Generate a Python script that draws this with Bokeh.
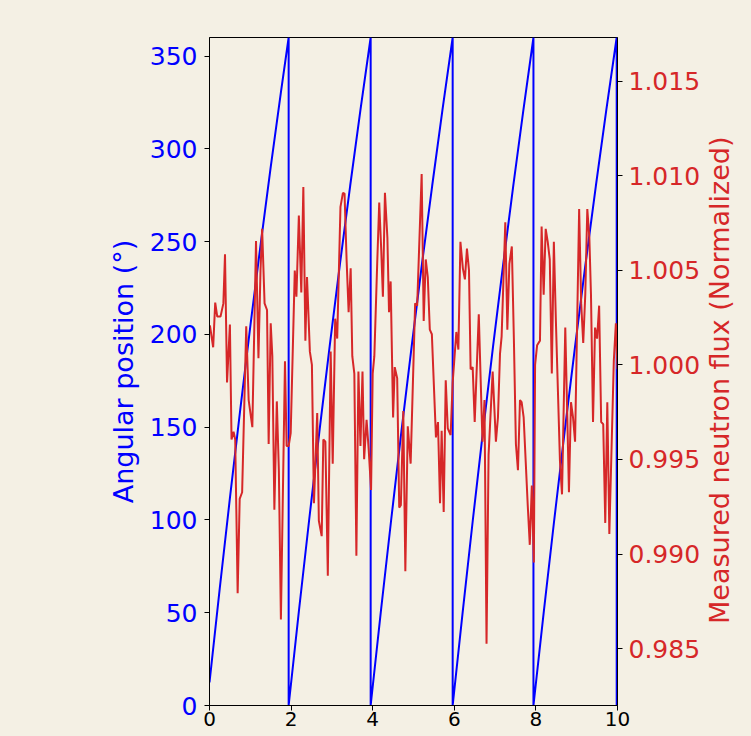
from bokeh.plotting import figure
from bokeh.models import Range1d, LinearAxis, FixedTicker, PrintfTickFormatter, Div
from bokeh.layouts import row
from bokeh.embed import file_html
from bokeh.resources import INLINE

# ---- data ----
blue_t = [0.0, 0.25, 0.5, 0.75, 1.0, 1.25, 1.5, 1.75, 1.94,
          1.94, 2.191, 2.443, 2.694, 2.945, 3.196, 3.448, 3.699, 3.95,
          3.95, 4.201, 4.453, 4.704, 4.955, 5.206, 5.458, 5.709, 5.96,
          5.96, 6.208, 6.455, 6.703, 6.95, 7.198, 7.445, 7.693, 7.94,
          7.94, 8.195, 8.45, 8.705, 8.96, 9.215, 9.47, 9.725, 9.98,
          9.98, 10.0]
blue_deg = [12.4, 62.9, 111.7, 158.8, 204.3, 248.0, 290.1, 330.4, 360.0,
            0.0, 50.9, 100.1, 147.7, 193.5, 237.7, 280.1, 320.9, 360.0,
            0.0, 50.9, 100.1, 147.7, 193.5, 237.7, 280.1, 320.9, 360.0,
            0.0, 50.9, 100.1, 147.7, 193.5, 237.7, 280.1, 320.9, 360.0,
            0.0, 50.9, 100.1, 147.7, 193.5, 237.7, 280.1, 320.9, 360.0,
            0.0, 3.5]

red_t = [0.01, 0.09, 0.14, 0.19, 0.27, 0.34, 0.38, 0.43, 0.50, 0.54, 0.59, 0.63,
         0.69, 0.74, 0.80, 0.90, 0.96, 1.05, 1.14, 1.20, 1.25, 1.29, 1.35, 1.41,
         1.45, 1.50, 1.54, 1.59, 1.65, 1.70, 1.75, 1.85, 1.89, 1.94, 1.99, 2.09,
         2.13, 2.19, 2.25, 2.30, 2.35, 2.39, 2.46, 2.51, 2.56, 2.64, 2.68, 2.75,
         2.79, 2.84, 2.90, 2.97, 3.02, 3.08, 3.13, 3.21, 3.27, 3.31, 3.36, 3.41,
         3.46, 3.50, 3.55, 3.60, 3.65, 3.70, 3.75, 3.79, 3.85, 3.90, 3.96, 4.00,
         4.04, 4.11, 4.16, 4.21, 4.25, 4.30, 4.36, 4.40, 4.44, 4.50, 4.54, 4.60,
         4.65, 4.69, 4.75, 4.80, 4.86, 4.93, 5.04, 5.09, 5.20, 5.25, 5.30, 5.35,
         5.40, 5.45, 5.55, 5.60, 5.65, 5.69, 5.74, 5.79, 5.84, 5.91, 5.96, 6.05,
         6.10, 6.15, 6.21, 6.26, 6.31, 6.36, 6.40, 6.45, 6.50, 6.60, 6.69, 6.74,
         6.79, 6.84, 6.94, 7.02, 7.07, 7.12, 7.16, 7.25, 7.30, 7.35, 7.41, 7.46,
         7.51, 7.56, 7.61, 7.65, 7.70, 7.75, 7.80, 7.85, 7.90, 7.95, 7.98, 8.03,
         8.10, 8.14, 8.19, 8.24, 8.29, 8.34, 8.39, 8.44, 8.49, 8.54, 8.59, 8.64,
         8.72, 8.77, 8.81, 8.86, 8.91, 8.96, 9.06, 9.11, 9.16, 9.21, 9.26, 9.31,
         9.35, 9.40, 9.45, 9.50, 9.55, 9.60, 9.65, 9.70, 9.75, 9.80, 9.91, 9.96,
         10.0]
red_flux = [1.00209, 1.00093, 1.00329, 1.00255, 1.00255, 1.00325, 1.00585, 0.99907,
            1.00213, 0.99606, 0.99647, 0.99606, 0.98793, 0.99292, 0.99327, 1.00204,
            0.99814, 0.99671, 1.00654, 1.00035, 1.00499, 1.00719, 1.00325, 1.00290,
            0.99582, 1.00220, 1.00046, 0.99234, 0.99807, 0.99443, 0.98654, 1.00019,
            0.99571, 0.99571, 0.99640, 1.00499, 1.00360, 1.00789, 1.00383, 1.00940,
            1.00128, 1.00464, 1.00070, 1.00000, 0.99269, 0.99745, 0.99176, 0.99095,
            0.99606, 0.99594, 0.98886, 1.00070, 0.99478, 1.00244, 1.00139, 1.00835,
            1.00909, 1.00905, 1.00557, 1.00278, 1.00510, 1.00046, 0.99954, 0.98991,
            0.99965, 0.99571, 0.99965, 0.99501, 0.99710, 0.99559, 0.99339, 0.99954,
            1.00046, 1.00534, 1.00858, 1.00603, 1.00360, 1.00909, 1.00673, 1.00278,
            1.00441, 0.99722, 0.99988, 0.99930, 0.99246, 0.99258, 0.99756, 0.98910,
            0.99675, 0.99478, 1.00325, 1.00313, 1.01009, 1.00232, 1.00557, 1.00464,
            1.00186, 1.00162, 0.99617, 0.99698, 0.99269, 0.99652, 0.99223, 0.99919,
            0.99664, 0.99629, 0.99907, 1.00174, 1.00081, 1.00650, 1.00510, 1.00452,
            1.00615, 1.00499, 0.99977, 0.99988, 0.99698, 1.00267, 0.99594, 0.99814,
            0.98527, 0.99524, 0.99965, 0.99594, 0.99722, 1.00058, 1.00151, 1.00754,
            1.00186, 1.00534, 1.00626, 1.00139, 0.99582, 0.99443, 0.99814, 0.99803,
            0.99722, 0.99490, 0.99258, 0.99049, 0.99362, 0.98956, 1.00000, 1.00104,
            1.00128, 1.00731, 1.00371, 1.00719, 1.00650, 1.00557, 0.99954, 1.00650,
            1.00232, 0.99861, 0.99490, 0.99316, 1.00197, 0.99722, 0.99327, 0.99803,
            0.99722, 0.99594, 1.00824, 1.00325, 1.00116, 1.00371, 1.00824, 1.00673,
            1.00371, 0.99698, 1.00197, 1.00139, 1.00313, 0.99698, 0.99687, 0.99165,
            0.99803, 0.99107, 1.00023, 1.00220, 0.99977]

x_ticks = [0, 2, 4, 6, 8, 10]
left_ticks = [0, 50, 100, 150, 200, 250, 300, 350]
right_ticks = [0.985, 0.990, 0.995, 1.000, 1.005, 1.010, 1.015]
left_label = "Angular position (°)"
right_label = "Measured neutron flux (Normalized)"

BG = "#f4f0e4"
BLUE = "#0000ff"
RED = "#d62728"
FONT = "DejaVu Sans"
FS = "25px"
LFS = "27px"

p = figure(width=717, height=736, x_range=Range1d(0, 10), y_range=Range1d(0, 360),
           output_backend="svg", toolbar_location=None,
           min_border_left=209, min_border_right=100, min_border_top=37,
           min_border_bottom=31)
p.extra_y_ranges = {"flux": Range1d(0.982, 1.0173)}

p.background_fill_color = BG
p.border_fill_color = BG
p.outline_line_color = "black"
p.outline_line_width = 1
p.grid.visible = False

# bottom axis
xa = p.xaxis[0]
xa.ticker = FixedTicker(ticks=x_ticks)
# left axis
ya = p.yaxis[0]
ya.ticker = FixedTicker(ticks=left_ticks)
ya.axis_label = left_label
ya.axis_label_text_color = BLUE
ya.major_label_text_color = BLUE
ya.major_label_standoff = 7
ya.axis_label_standoff = 8

# right axis
ra = LinearAxis(y_range_name="flux", ticker=FixedTicker(ticks=right_ticks),
                formatter=PrintfTickFormatter(format="%.3f"))
ra.major_label_text_color = RED
ra.major_label_standoff = 6
p.add_layout(ra, "right")

for ax in [xa, ya, ra]:
    ax.major_label_text_font = FONT
    ax.major_label_text_font_size = FS
    ax.axis_label_text_font = FONT
    ax.axis_label_text_font_size = LFS
    ax.axis_label_text_font_style = "normal"
    ax.major_tick_in = 0
    ax.major_tick_out = 5
    ax.minor_tick_in = 0
    ax.minor_tick_out = 0
    ax.axis_line_color = "black"
    ax.major_tick_line_color = "black"
xa.major_label_text_color = "black"
xa.major_label_text_font_size = "20px"
xa.major_label_standoff = 1

p.line(blue_t, blue_deg, line_color=BLUE, line_width=2)
p.line(red_t, red_flux, line_color=RED, line_width=2, y_range_name="flux")

# right-hand axis title, reading bottom-to-top as in the reference
label_html = (
    '<div style="box-sizing:border-box;width:34px;height:736px;padding-bottom:24px;'
    'writing-mode:vertical-rl;transform:translateX(-14px) rotate(180deg);'
    'text-align:center;white-space:nowrap;line-height:34px;'
    "font-family:'DejaVu Sans';font-size:27px;color:%s;\">%s</div>" % (RED, right_label)
)
div = Div(text=label_html, width=34, height=736, margin=0,
          styles={"background-color": BG, "overflow": "visible"})

layout = row(p, div, spacing=0)

html = file_html(layout, INLINE)
html = html.replace("<head>", "<head><style>html,body{background:%s;overflow:hidden;}</style>" % BG, 1)
open("out.html", "w").write(html)
